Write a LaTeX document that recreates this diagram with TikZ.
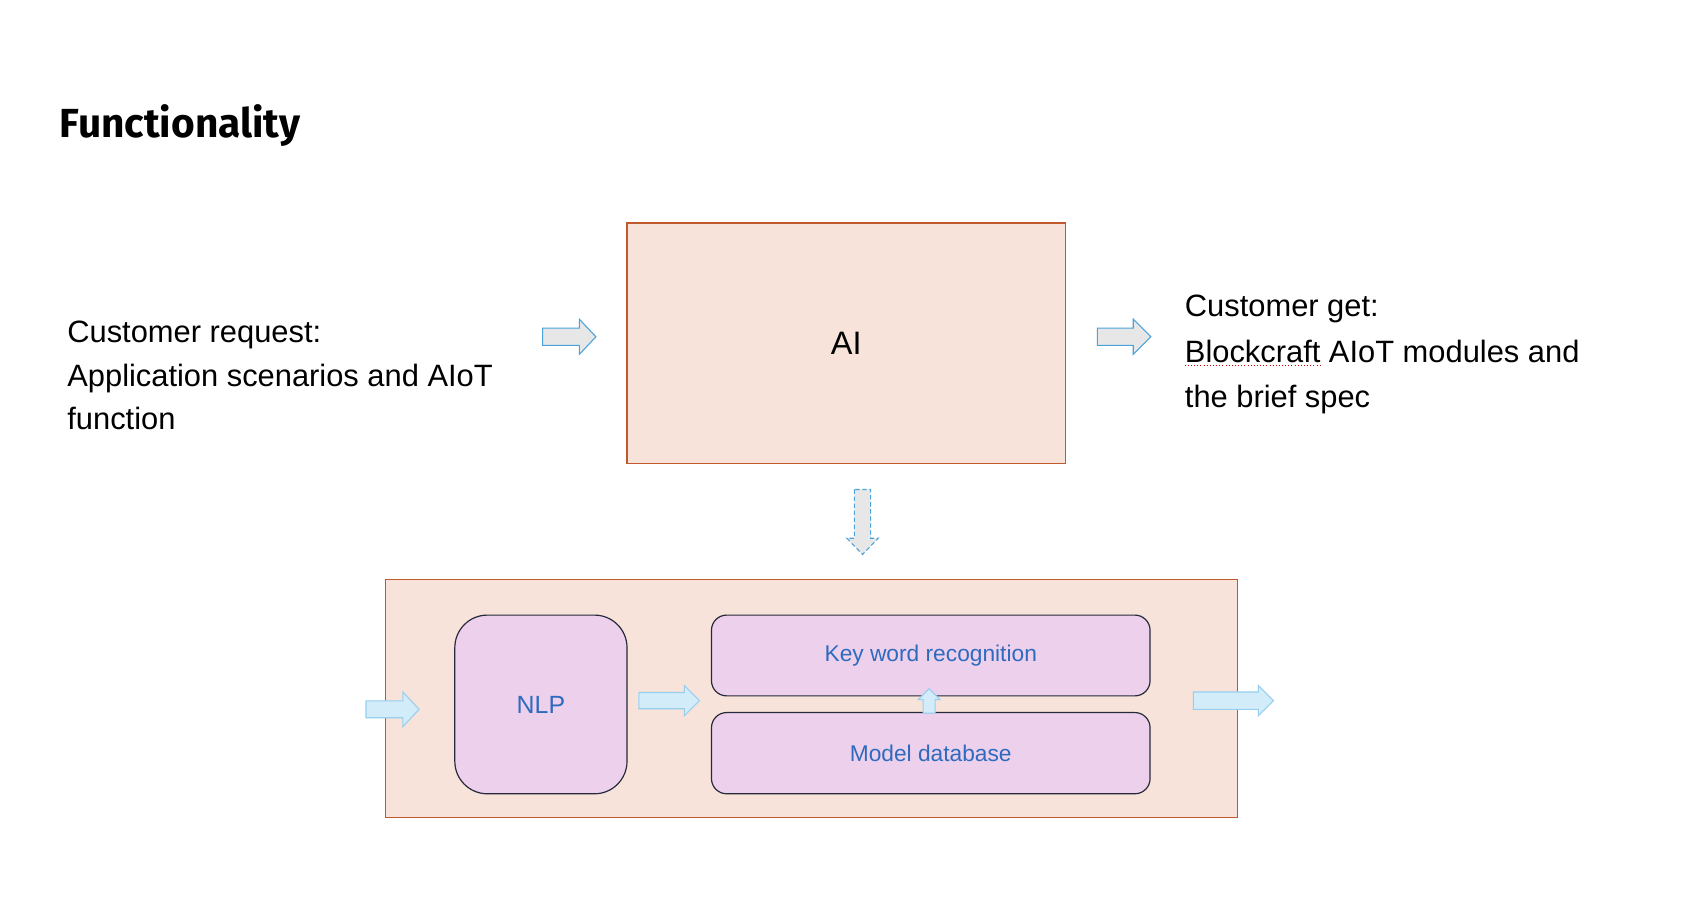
\documentclass[tikz,border=0pt]{standalone}
\usepackage{fontspec}
\setmainfont{Liberation Sans}
\newfontfamily\titlefont{Fira Sans}
\definecolor{peach}{HTML}{F7E3D9}
\definecolor{peachline}{HTML}{C05A2C}
\definecolor{lilac}{HTML}{EDD0EC}
\definecolor{lilacline}{HTML}{262A3A}
\definecolor{txtblue}{HTML}{2E6BBF}
\definecolor{greyfill}{HTML}{E7E7E7}
\definecolor{greyline}{HTML}{4BA3DC}
\definecolor{skyfill}{HTML}{D2ECF9}
\definecolor{skyline}{HTML}{96CFF0}
\newcommand\blockarrowR[7]{\draw[#1] (#2,#5-#6) -- (#4,#5-#6) -- (#4,#5-#7) -- (#3,#5) -- (#4,#5+#7) -- (#4,#5+#6) -- (#2,#5+#6) -- cycle;}
\newcommand\blockarrowV[7]{\draw[#1] (#5-#6,#2) -- (#5-#6,#4) -- (#5-#7,#4) -- (#5,#3) -- (#5+#7,#4) -- (#5+#6,#4) -- (#5+#6,#2) -- cycle;}
\tikzset{
  txt/.style={inner sep=0pt, anchor=base west, font=\fontsize{28.5}{34}\selectfont},
  peachbox/.style={draw=peachline, fill=peach, line width=1.1pt, inner sep=0pt},
  lilacbox/.style={draw=lilacline, fill=lilac, line width=1.1pt, inner sep=0pt, text=txtblue, font=\fontsize{21}{25}\selectfont},
  greyarrow/.style={draw=greyline, fill=greyfill, line width=1pt, line join=miter},
  skyarrow/.style={draw=skyline, fill=skyfill, line width=1pt, line join=miter},
}
\begin{document}
\begin{tikzpicture}[x=1pt,y=-1pt]
\useasboundingbox[fill=white] (0,0) rectangle (1568,851.4);
% title
\node[inner sep=0pt, anchor=base west, font=\titlefont\bfseries\fontsize{37.5}{42}\selectfont] (title) at (55,127) {Functionality};
% left text
\node[txt] (l1) at (62,316) {Customer request:};
\node[txt] (l2) at (62,356.5) {Application scenarios and AIoT};
\node[txt] (l3) at (62,397) {function};
% right text
\node[txt] (r1) at (1094,292.5) {Customer get:};
\node[txt] (r2) at (1094,334.5) {Blockcraft AIoT modules and};
\node[txt] (r3) at (1094,376.5) {the brief spec};
\draw[red!85!black, dotted, line width=0.9pt] ([yshift=-3.4pt]r2.base west) -- ++(127,0);
% AI box
\node[peachbox, minimum width=405pt, minimum height=222pt, font=\fontsize{30}{36}\selectfont] (ai) at (781.5,317) {AI};
% module box
\node[peachbox, minimum width=787pt, minimum height=220pt] (mod) at (749.5,645) {};
\node[lilacbox, rounded corners=30pt, minimum width=159pt, minimum height=165pt, font=\fontsize{23}{27}\selectfont] (nlp) at (499.5,650.5) {NLP};
\node[lilacbox, rounded corners=14pt, minimum width=405pt, minimum height=74.6pt] (kw) at (859.5,605.3) {\raisebox{-1.5pt}{Key word recognition}};
\node[lilacbox, rounded corners=14pt, minimum width=405pt, minimum height=75pt] (md) at (859.5,695.5) {Model database};
% arrows
\blockarrowR{greyarrow}{501}{550.3}{535}{311}{8}{16.2}
\blockarrowR{greyarrow}{1013.3}{1062.8}{1046.5}{311}{8}{16.2}
\blockarrowV{greyarrow, dashed, dash pattern=on 4pt off 2.5pt}{452}{512}{497}{796.5}{7.5}{14.5}
\blockarrowR{skyarrow}{338}{387}{372}{655}{7.75}{16}
\blockarrowR{skyarrow}{590}{646}{632}{647}{7.5}{14}
\blockarrowR{skyarrow}{1102}{1176}{1162}{647}{8}{14}
\blockarrowV{skyarrow}{658.5}{636}{646}{858}{5.5}{10}
\end{tikzpicture}
\end{document}
